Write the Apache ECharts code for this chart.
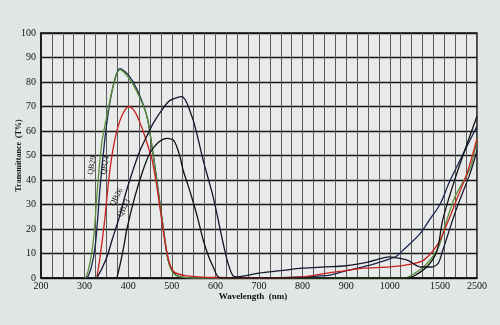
<!DOCTYPE html>
<html><head><meta charset="utf-8">
<script src="https://cdn.jsdelivr.net/npm/echarts@6/dist/echarts.min.js"></script>
<style>html,body{margin:0;padding:0;background:#e1e6e3}#c{width:500px;height:325px}</style>
</head><body><div id="c"></div>
<script>
// x tick labels (broken wavelength axis)
const xTickWavelengths = [200,300,400,500,600,700,800,900,1000,1500,2500];
const xTickLabels = ['200','300','400','500','600','700','800','900','1000','1500','2500'];
const yTickValues = [0,10,20,30,40,50,60,70,80,90,100];

// curves: wavelength (nm) and transmittance (%)
const qb29GreenWl = [300,305,312,320,331,340,351,365,381,400,420,443,455,465,480,492,503,520,560,800,1100,1150,1250,1350,1480,1650,1900,2320,2500];
const qb29GreenT  = [0,1,6,15,40,56,66,78,85,82,76,66,53,40,21,7,2,0.5,0,0,0,0,2,5,12,22,33,45,57];

const qb29DarkWl = [306,315,325,336,350,365,381,400,420,443,455,465,480,492,505,520,560,700,800,863,900,955,1000,1070,1134,1300,1400,1500,1750,2040,2500];
const qb29DarkT  = [0,4,14,38,62,78,85.5,83,77,66,53,41,21,7,2,0.5,0,0,0.5,1.2,3,5.3,7.8,9,11.4,18,24,30,39,48,62];

const qb24Wl = [328,335,345,358,370,385,402,415,430,445,455,465,475,485,495,505,530,560,600,700,800,856,900,939,1000,1210,1339,1482,1688,1950,2214,2375,2500];
const qb24T  = [0,8,22,44,57,66,70,68,62,54,48,38,26,14,6,2.5,1,0.5,0.2,0,0.4,2,3,4,4.5,5.7,7.3,14,22,32,42,50,57];

const qb26Wl = [328,340,352,363,380,395,411,427,443,457,475,496,523,546,560,572,595,618,629,640,650,700,750,800,850,900,950,1000,1050,1174,1308,1411,1482,1570,1940,2320,2500];
const qb26T  = [0,4,9,15.5,25,35,44,52,58,63,68,72.5,74,66,57,48,33,14,6,1,0.5,2,3,4,4.5,5,6.5,8.6,8.3,7.3,4.5,4.5,6,11,28,43,52];

const qb23Wl = [374,382,390,397,415,434,450,470,489,505,518,526,537,549,560,572,584,595,606,620,1100,1174,1250,1380,1470,1580,1940,2500];
const qb23T  = [0,6,13,20,33,44,51,55.5,57,56,50,44,38,31,24,15.5,9,4.5,0.5,0,0,0,1,5,11,24,42,66];

// curve name labels
const labelNames = ['QB29','QB24','QB26','QB23'];
const labelWl = [317,347,373,390];
const labelT = [46,46,33,28.5];

// piecewise wavelength -> axis position
function wlToPos(w){
  if (w <= 1000) return w;
  if (w <= 1500) return 1000 + (w-1000)*115/500;
  return 1115 + (w-1500)*85/1000;
}
const posLabel = {};
xTickWavelengths.forEach((w,i)=>{ posLabel[wlToPos(w)] = xTickLabels[i]; });

function pts(wl, t){ return wl.map((w,i)=>[wlToPos(w), t[i]]); }

const serif = 'Liberation Serif';
function lbl(i, rot){
  return {
    symbol:'circle', symbolSize:0,
    label:{show:true, position:'inside', formatter:labelNames[i], rotate:rot,
      fontFamily:serif, fontSize:8, color:'#111'},
    data:[{coord:[wlToPos(labelWl[i]), labelT[i]]}]
  };
}
function line(name, data, color, mp){
  const s = {name, type:'line', data, smooth:0.3, symbol:'none',
    lineStyle:{color, width:1.3}, z:3};
  if (mp) s.markPoint = mp;
  return s;
}

const chart = echarts.init(document.getElementById('c'), null, {renderer:'canvas'});
chart.setOption({
  backgroundColor:'#e1e6e3',
  animation:false,
  grid:{left:41, right:23, top:33, bottom:47, show:true, backgroundColor:'#e8ebea', borderColor:'#111', borderWidth:1.5},
  xAxis:{
    type:'value', min:200, max:1200, interval:25,
    name:'Wavelength  (nm)', nameLocation:'middle', nameGap:14, nameMoveOverlap:false,
    nameTextStyle:{fontFamily:serif, fontSize:9, fontWeight:'bold', color:'#111', padding:[0,12,0,0]},
    axisLine:{show:true, lineStyle:{color:'#111', width:1.5}},
    axisTick:{show:false},
    splitLine:{show:true, lineStyle:{color:'#595959', width:1}},
    axisLabel:{customValues: xTickWavelengths.map(wlToPos), formatter:v=>posLabel[v]||'',
      fontFamily:serif, fontSize:10, color:'#111', margin:3}
  },
  yAxis:{
    type:'value', min:0, max:100, interval:10,
    name:'Transmittance  (T%)', nameLocation:'middle', nameGap:18, nameRotate:90, nameMoveOverlap:false,
    nameTextStyle:{fontFamily:serif, fontSize:8, fontWeight:'bold', color:'#111'},
    axisLine:{show:true, lineStyle:{color:'#111', width:1.5}},
    axisTick:{show:false},
    splitLine:{show:true, lineStyle:{color:'#161616', width:1.4}},
    axisLabel:{fontFamily:serif, fontSize:10, color:'#111', margin:5}
  },
  series:[
    line('QB29 dark', pts(qb29DarkWl, qb29DarkT), '#1b2550'),
    line('QB29', pts(qb29GreenWl, qb29GreenT), '#5b8f3a', lbl(0,80)),
    line('QB24', pts(qb24Wl, qb24T), '#c8201e', lbl(1,78)),
    line('QB26', pts(qb26Wl, qb26T), '#15152a', lbl(2,62)),
    line('QB23', pts(qb23Wl, qb23T), '#111111', lbl(3,62))
  ]
});
</script></body></html>
